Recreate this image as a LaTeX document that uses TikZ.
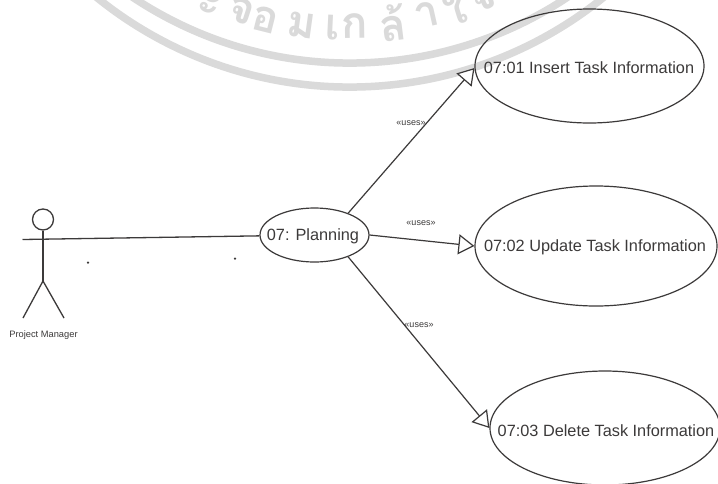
\documentclass[tikz,border=0pt]{standalone}
\usepackage{fontspec}
\setmainfont{Liberation Sans}
\newfontfamily\thaifont[Script=Thai]{Loma}
\usetikzlibrary{arrows.meta,shapes.geometric}
\definecolor{ink}{HTML}{3C3A3A}
\definecolor{mark}{HTML}{DADADA}
\tikzset{
  x=1pt,y=-1pt,
  usecase/.style={draw=ink,line width=1.2pt,ellipse,inner sep=0pt},
  casetext/.style={text=ink,inner sep=0pt,font=\fontsize{16.3}{18}\selectfont},
  uselink/.style={draw=ink,line width=1.2pt,-{Triangle[open,length=16pt,width=20pt,line width=1.2pt,fill=white]}},
  stereo/.style={text=ink,font=\fontsize{9}{10}\selectfont,inner sep=0pt},
  limb/.style={draw=ink,line width=1.3pt},
  band/.style={draw=mark,line width=7.5pt},
  wm/.style={text=mark,inner sep=0pt,font=\thaifont\bfseries\fontsize{44}{48}\selectfont},
  speck/.style={circle,fill=ink,inner sep=0pt,minimum size=2.5pt},
}
\begin{document}
\begin{tikzpicture}
\useasboundingbox (0,0) rectangle (718,483);
\clip (0,0) rectangle (718,483);
\fill[white] (0,0) rectangle (718,483);
% watermark
\draw[band] (350,-329) ++(30:392) arc[start angle=30,end angle=150,radius=392];
\draw[band] (350,-316) ++(30:403) arc[start angle=30,end angle=150,radius=403];
\foreach \px/\py/\ch in {210/4/ะ,242/11/จ,265/20/อ,302/25/ม,333/28/เ,355/26/ก,393/23/ล้,427/15/า,455/8/ใ,483/-2/จ}{
  \pgfmathsetmacro{\ang}{asin((\px-350)/350)}
  \node[wm,rotate=\ang] (w\px) at (\px,\py) {\ch};
}
% use cases
\node[usecase,minimum width=229pt,minimum height=114pt] (e1) at (589.5,66) {};
\node[usecase,minimum width=242pt,minimum height=120pt] (e2) at (596,246) {};
\node[usecase,minimum width=230pt,minimum height=114pt] (e3) at (605,428) {};
\node[usecase,minimum width=109pt,minimum height=54pt] (plan) at (314.5,235) {};
\node[casetext] (t1) at (589,68) {07:01 Insert Task Information};
\node[casetext] (t2) at (595,247) {07:02 Update Task Information};
\node[casetext] (t3) at (606,431) {07:03 Delete Task Information};
\node[casetext] (t4) at (313,236) {07: Planning};
% actor
\node[circle,draw=ink,line width=1.3pt,minimum size=21pt,inner sep=0pt] (head) at (43,219.5) {};
\coordinate (hip) at (43,281);
\coordinate (footL) at (23,318);
\coordinate (footR) at (64,318);
\coordinate (hand) at (22.5,239.5);
\draw[limb] (head.south) -- (hip);
\draw[limb] (footL) -- (hip) -- (footR);
\node[text=ink,font=\fontsize{9.3}{10}\selectfont,inner sep=0pt] (pm) at (43.5,335) {Project Manager};
% links
\draw[limb] (hand) -- (plan);
\draw[uselink] (plan.33) -- (e1.181);
\draw[uselink] (plan.east) -- (e2.west);
\draw[uselink] (plan.-33) -- (e3.west);
\node[stereo] (u1) at (411,123) {«uses»};
\node[stereo] (u2) at (421,223) {«uses»};
\node[stereo] (u3) at (419,325) {«uses»};
% specks
\node[speck] (s1) at (88,262.5) {};
\node[speck] (s2) at (235,258.5) {};
\end{tikzpicture}
\end{document}
